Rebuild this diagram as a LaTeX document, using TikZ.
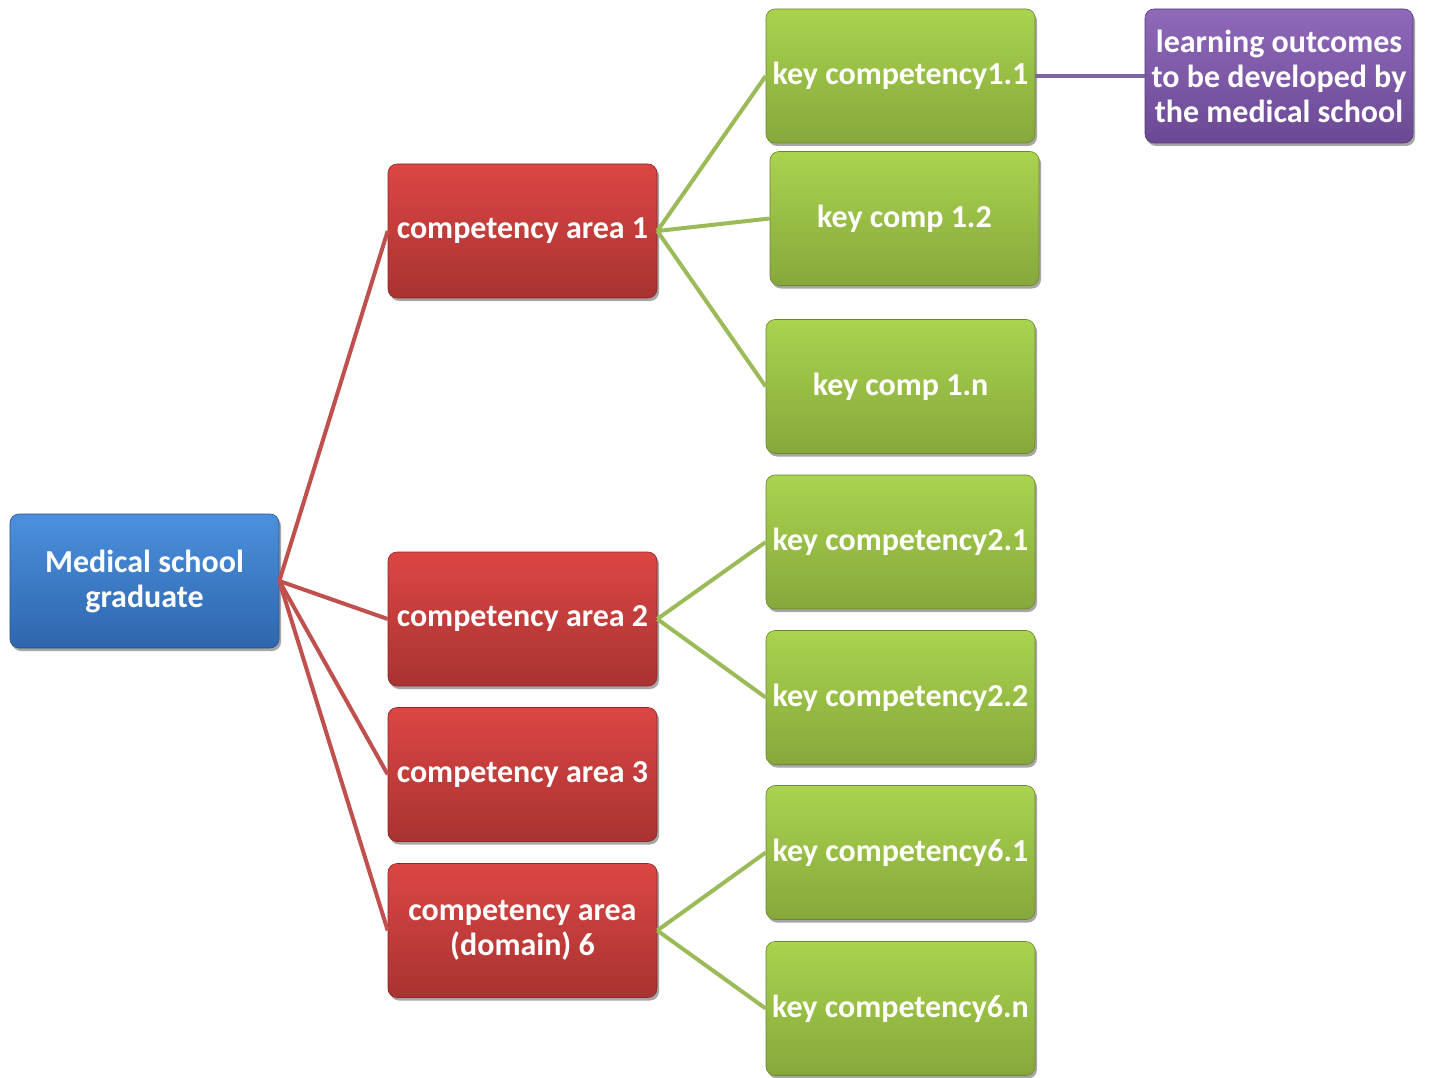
\documentclass[tikz,border=0pt]{standalone}
\usepackage{fontspec}
\setmainfont{Carlito}
\usetikzlibrary{shadows}
\definecolor{bluetop}{HTML}{4C90DD}
\definecolor{bluebot}{HTML}{2E66AE}
\definecolor{redtop}{HTML}{DC4644}
\definecolor{redbot}{HTML}{A83331}
\definecolor{greentop}{HTML}{AAD34F}
\definecolor{greenbot}{HTML}{86A83B}
\definecolor{purptop}{HTML}{9069BA}
\definecolor{purpbot}{HTML}{6A4994}
\definecolor{redline}{HTML}{C0504D}
\definecolor{greenline}{HTML}{9BBB59}
\definecolor{purpline}{HTML}{8064A2}
\tikzset{
  box/.style={rounded corners=9pt, minimum width=269pt, minimum height=134pt, inner sep=0pt,
    text=white, align=center, font=\fontsize{32}{35}\selectfont\bfseries,
    drop shadow={shadow xshift=2pt, shadow yshift=-3pt, fill=black, opacity=0.35}},
  bluebox/.style={box, top color=bluetop, bottom color=bluebot, draw=bluebot!80!black, line width=0.6pt},
  redbox/.style={box, top color=redtop, bottom color=redbot, draw=redbot!80!black, line width=0.6pt},
  greenbox/.style={box, top color=greentop, bottom color=greenbot, draw=greenbot!80!black, line width=0.6pt},
  purpbox/.style={box, top color=purptop, bottom color=purpbot, draw=purpbot!80!black, line width=0.6pt},
  redlink/.style={draw=redline, line width=4pt},
  greenlink/.style={draw=greenline, line width=4pt},
  purplink/.style={draw=purpline, line width=4pt},
}
\begin{document}
\begin{tikzpicture}[x=1pt,y=-1pt]
\useasboundingbox (0,0) rectangle (1429,1078);
\node[bluebox] (med) at (144.5,581) {Medical school\\graduate};
\node[redbox] (ca1) at (522.5,231) {competency area 1};
\node[redbox] (ca2) at (522.5,619) {competency area 2};
\node[redbox] (ca3) at (522.5,774.5) {competency area 3};
\node[redbox] (ca6) at (522.5,930.5) {competency area\\(domain) 6};
\node[greenbox] (k11) at (900.5,76) {key competency1.1};
\node[greenbox] (k12) at (904.5,218.5) {key comp 1.2};
\node[greenbox] (k1n) at (900.5,386.5) {key comp 1.n};
\node[greenbox] (k21) at (900.5,542) {key competency2.1};
\node[greenbox] (k22) at (900.5,697.5) {key competency2.2};
\node[greenbox] (k61) at (900.5,852.5) {key competency6.1};
\node[greenbox] (k6n) at (900.5,1008.5) {key competency6.n};
\node[purpbox, minimum width=268pt] (lo) at (1279,76) {learning outcomes\\to be developed by\\the medical school};
\path[redlink] (med.east) -- (ca1.west);
\path[redlink] (med.east) -- (ca2.west);
\path[redlink] (med.east) -- (ca3.west);
\path[redlink] (med.east) -- (ca6.west);
\path[greenlink] (ca1.east) -- (k11.west);
\path[greenlink] (ca1.east) -- (k12.west);
\path[greenlink] (ca1.east) -- (k1n.west);
\path[greenlink] (ca2.east) -- (k21.west);
\path[greenlink] (ca2.east) -- (k22.west);
\path[greenlink] (ca6.east) -- (k61.west);
\path[greenlink] (ca6.east) -- (k6n.west);
\path[purplink] (k11.east) -- (lo.west);
\end{tikzpicture}
\end{document}
